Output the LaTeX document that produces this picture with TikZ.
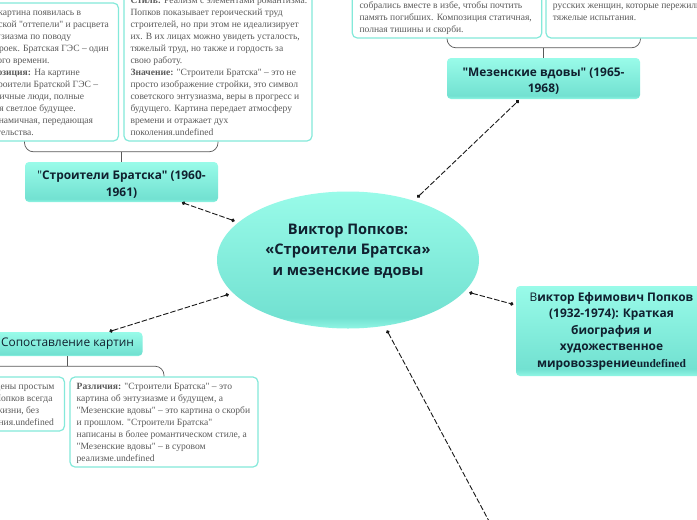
\documentclass[tikz,border=0pt]{standalone}
\usepackage{fontspec}
\setmainfont{Liberation Serif}[Ligatures=TeXOff]
\newfontfamily\boxfont{Open Sans}
\usetikzlibrary{arrows.meta,calc,shapes.geometric}
\definecolor{tealtop}{HTML}{99FBE9}
\definecolor{tealdeep}{HTML}{72E1D1}
\definecolor{tealrim}{HTML}{90F6E4}
\definecolor{cardedge}{HTML}{84E9DA}
\definecolor{cardink}{HTML}{5A5A5A}
\definecolor{boxink}{HTML}{10202F}
\pgfdeclareverticalshading{tealshade}{100bp}{color(0bp)=(tealrim); color(25bp)=(tealrim); color(29bp)=(tealdeep); color(75bp)=(tealtop); color(100bp)=(tealtop)}
\tikzset{
  topic/.style={shading=tealshade,rounded corners=4pt,inner sep=0pt,align=center,text=boxink,font=\boxfont\fontsize{11.9}{16.5}\selectfont\bfseries},
  card/.style={draw=cardedge,line width=1.2pt,fill=white,rounded corners=5pt,inner sep=0pt},
  cardtext/.style={inner sep=0pt,text=cardink,font=\fontsize{9.55}{12}\selectfont},
  link/.style={line width=0.9pt,dash pattern=on 5.5pt off 2pt,black!90,{Circle[length=3.6pt]}-{Circle[length=3.6pt]}},
  openlink/.style={line width=0.9pt,dash pattern=on 5.5pt off 2pt,black!90,{Circle[length=3.6pt]}-},
  branch/.style={line width=0.7pt,draw=black!65},
}
\newcommand{\lineE}[4]{\node[cardtext,anchor=base east] (#1) at (#2,#3) {#4};}
\newcommand{\lineW}[4]{\node[cardtext,anchor=base west] (#1) at (#2,#3) {#4};}
\begin{document}
\begin{tikzpicture}[x=1pt,y=-1pt]
\useasboundingbox (0,0) rectangle (697,520);
\clip (0,0) rectangle (697,520);
\fill[white] (0,0) rectangle (697,520);

% topics
\node[topic,ellipse,minimum width=262pt,minimum height=137pt,font=\boxfont\fontsize{14.6}{20.6}\selectfont\bfseries] (root) at (348,260) {Виктор Попков:\\«Строители Братска»\\и мезенские вдовы\\\mbox{}};
\node[topic,minimum width=193pt,minimum height=40pt] (stb) at (121.5,182) {\rule{0pt}{14pt}{\mdseries"}Строители Братска" (1960-\\1961)};
\node[topic,minimum width=193pt,minimum height=41pt] (mez) at (543.5,78.5) {\rule{0pt}{14pt}"Мезенские вдовы" (1965-\\1968)};
\node[topic,minimum width=150pt,minimum height=24pt,font=\boxfont\fontsize{11.9}{16.5}\selectfont] (cmp) at (67.5,344) {Сопоставление картин};
\node[topic,minimum width=191pt,minimum height=90pt] (bio) at (611.5,331) {{\mdseries В}иктор Ефимович Попков\\(1932-1974): Краткая\\биография и\\художественное\\мировоззрение{\rmfamily\fontsize{11.5}{16.5}\selectfont undefined}};

% cards
\node[card,minimum width=188pt,minimum height=138pt] (ca) at (24.5,72) {};
\node[card,minimum width=188pt,minimum height=181pt] (cb) at (218,50.5) {};
\node[card,minimum width=189.5pt,minimum height=98pt] (cc) at (447,-11) {};
\node[card,minimum width=189pt,minimum height=98pt] (cd) at (640.5,-11) {};
\node[card,minimum width=188pt,minimum height=54pt] (ce) at (-29.5,404) {};
\node[card,minimum width=188pt,minimum height=90pt] (cf) at (164,422) {};

% branches
\draw[branch] (stb.north) -- ++(0,-10) coordinate (stbj);
\draw[branch,rounded corners=9pt] (ca.south) |- (stbj) -| (cb.south);
\draw[branch] (mez.north) -- ++(0,-10) coordinate (mezj);
\draw[branch,rounded corners=9pt] (cc.south) |- (mezj) -| (cd.south);
\draw[branch] (cmp.south) -- ++(0,10) coordinate (cmpj);
\draw[branch,rounded corners=9pt] (ce.north) |- (cmpj) -| (cf.north);

% links
\coordinate (free) at (490,523);
\draw[link,shorten <=4pt,shorten >=1pt] (root.161) -- ($(stb.south)+(59.5,0)$);
\draw[link,shorten <=4.6pt,shorten >=1.7pt] (root.42.8) -- ($(mez.south)+(-23.5,0)$);
\draw[link,shorten <=4.7pt,shorten >=2.5pt] (root.-15.2) -- ($(bio.west)+(0,-26)$);
\draw[link,shorten <=4.4pt,shorten >=1pt] (root.196.9) -- ($(cmp.north)+(41,0)$);
\draw[openlink,shorten <=5pt] (root.-61.7) -- (free);

% card A
\lineE{a1}{81.3}{15.5}{картина появилась в}
\lineE{a2}{109}{27.5}{ской "оттепели" и расцвета}
\lineE{a3}{71.3}{39.5}{тузиазма по поводу}
\lineE{a4}{109}{51.5}{роек. Братская ГЭС – один}
\lineE{a5}{49.7}{63.5}{ого времени.}
\lineE{a6}{80}{75.5}{\textbf{озиция:} На картине}
\lineE{a7}{98.3}{87.5}{роители Братской ГЭС –}
\lineE{a8}{84.3}{99.5}{ичные люди, полные}
\lineE{a9}{76}{111.5}{я светлое будущее.}
\lineE{a10}{93.3}{123.5}{намичная, передающая}
\lineE{a11}{34}{135.5}{тельства.}

% card B
\lineW{b0}{130.3}{3.5}{\textbf{Стиль:} Реализм с элементами романтизма.}
\lineW{b1}{130.3}{15.5}{Попков показывает героический труд}
\lineW{b2}{130.3}{27.5}{строителей, но при этом не идеализирует}
\lineW{b3}{130.3}{39.5}{их. В их лицах можно увидеть усталость,}
\lineW{b4}{130.3}{51.5}{тяжелый труд, но также и гордость за}
\lineW{b5}{130.3}{63.5}{свою работу.}
\lineW{b6}{130.3}{75.5}{\textbf{Значение:} "Строители Братска" – это не}
\lineW{b7}{130.3}{87.5}{просто изображение стройки, это символ}
\lineW{b8}{130.3}{99.5}{советского энтузиазма, веры в прогресс и}
\lineW{b9}{130.3}{111.5}{будущего. Картина передает атмосферу}
\lineW{b10}{130.3}{123.5}{времени и отражает дух}
\lineW{b11}{130.3}{135.5}{поколения.undefined}

% card C
\lineW{c1}{359.3}{8.5}{собрались вместе в избе, чтобы почтить}
\lineW{c2}{359.3}{20.5}{память погибших. Композиция статичная,}
\lineW{c3}{359.3}{32.5}{полная тишины и скорби.}

% card D
\lineW{d1}{552.7}{8.5}{русских женщин, которые пережили}
\lineW{d2}{552.7}{20.5}{тяжелые испытания.}

% card E
\lineE{e1}{54.7}{389.5}{дены простым}
\lineE{e2}{52.7}{401.5}{Попков всегда}
\lineE{e3}{39.3}{413.5}{жизни, без}
\lineE{e4}{54}{425.5}{ния.undefined}

% card F
\lineW{f1}{76.5}{389.5}{\textbf{Различия:} "Строители Братска" – это}
\lineW{f2}{76.5}{401.5}{картина об энтузиазме и будущем, а}
\lineW{f3}{76.5}{413.5}{"Мезенские вдовы" – это картина о скорби}
\lineW{f4}{76.5}{425.5}{и прошлом. "Строители Братска"}
\lineW{f5}{76.5}{437.5}{написаны в более романтическом стиле, а}
\lineW{f6}{76.5}{449.5}{"Мезенские вдовы" – в суровом}
\lineW{f7}{76.5}{461.5}{реализме.undefined}
\end{tikzpicture}
\end{document}
